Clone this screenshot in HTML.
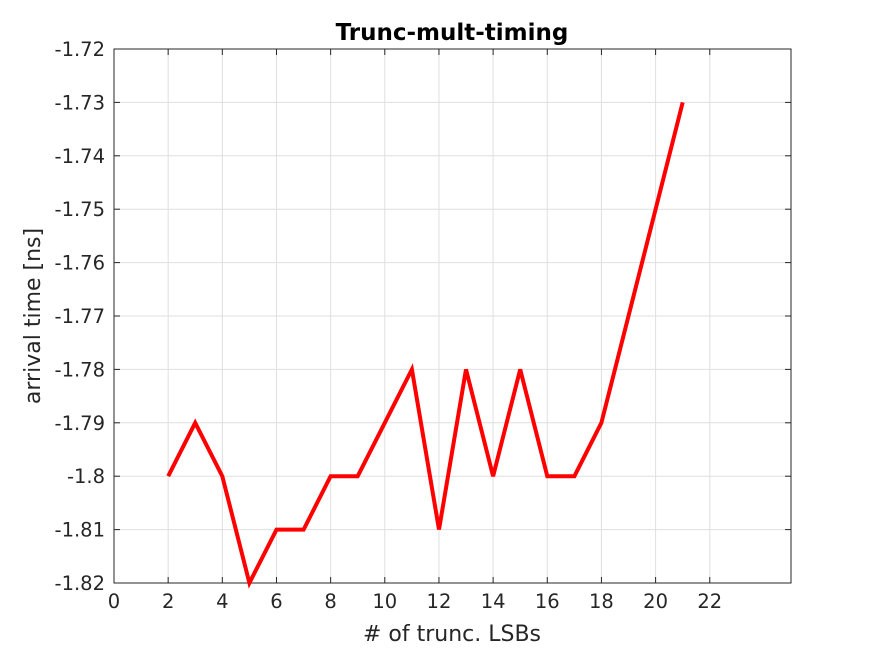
<!DOCTYPE html>
<html><head><meta charset="utf-8"><style>
html,body{margin:0;padding:0;background:#fff;}
svg{display:block;font-family:"DejaVu Sans","Liberation Sans",sans-serif;}
</style></head><body>
<svg id="chart" width="875" height="656" viewBox="0 0 875 656" xmlns="http://www.w3.org/2000/svg">
<rect x="0" y="0" width="875" height="656" fill="#fff"/>
<rect x="114" y="49" width="677" height="534" fill="#fff"/>
<g id="grid"></g>
<g id="ticks"></g>
<rect x="114" y="49" width="677" height="534" fill="none" stroke="#262626" stroke-width="1"/>
<path id="series" fill="none" stroke="#ff0000" stroke-width="4" stroke-linejoin="miter"/>
<text x="452" y="40" text-anchor="middle" font-size="23" font-weight="bold" fill="#000">Trunc-mult-timing</text>
<text x="452" y="641" text-anchor="middle" font-size="22" fill="#262626"># of trunc. LSBs</text>
<text transform="translate(40,316) rotate(-90)" text-anchor="middle" font-size="22" fill="#262626">arrival time [ns]</text>
</svg>
<script>
const xValues = [2,3,4,5,6,7,8,9,10,11,12,13,14,15,16,17,18,19,20,21];
const yValues = [-1.80,-1.79,-1.80,-1.82,-1.81,-1.81,-1.80,-1.80,-1.79,-1.78,-1.81,-1.78,-1.80,-1.78,-1.80,-1.80,-1.79,-1.77,-1.75,-1.73];
const xTicks = [0,2,4,6,8,10,12,14,16,18,20,22];
const yTicks = [-1.72,-1.73,-1.74,-1.75,-1.76,-1.77,-1.78,-1.79,-1.8,-1.81,-1.82];
const yTickLabels = ["-1.72","-1.73","-1.74","-1.75","-1.76","-1.77","-1.78","-1.79","-1.8","-1.81","-1.82"];

const L=114,R=791,T=49,B=583,xMin=0,xMax=25,yMin=-1.82,yMax=-1.72;
function sx(v){return L+(v-xMin)/(xMax-xMin)*(R-L);}
function sy(v){return B-(v-yMin)/(yMax-yMin)*(B-T);}
const NS="http://www.w3.org/2000/svg";
const grid=document.getElementById('grid'), ticks=document.getElementById('ticks');
function mk(tag,attrs,parent){const e=document.createElementNS(NS,tag);for(const k in attrs)e.setAttribute(k,attrs[k]);parent.appendChild(e);return e;}
xTicks.forEach(v=>{
  const x=sx(v);
  const g=mk('line',{x1:x,x2:x,y1:T,y2:B,stroke:'#dfdfdf','stroke-width':1},grid);
  
  
  mk('line',{x1:x,x2:x,y1:B,y2:B-6,stroke:'#262626'},ticks);
  mk('line',{x1:x,x2:x,y1:T,y2:T+6,stroke:'#262626'},ticks);
  const t=mk('text',{x:x,y:B+25,'text-anchor':'middle','font-size':19.5,fill:'#262626'},ticks);
  t.textContent=String(v);
  
  
});
yTicks.forEach((v,i)=>{
  const y=sy(v);
  const g=mk('line',{x1:L,x2:R,y1:y,y2:y,stroke:'#dfdfdf','stroke-width':1},grid);
  
  
  mk('line',{x1:L,x2:L+6,y1:y,y2:y,stroke:'#262626'},ticks);
  mk('line',{x1:R,x2:R-6,y1:y,y2:y,stroke:'#262626'},ticks);
  const t=mk('text',{x:L-9,y:y+7,'text-anchor':'end','font-size':19.5,fill:'#262626'},ticks);
  t.textContent=yTickLabels[i];
  
  
});
document.getElementById('series').setAttribute('d',xValues.map((v,i)=>(i?'L':'M')+sx(v).toFixed(1)+','+sy(yValues[i]).toFixed(1)).join(' '));
</script>
</body></html>
